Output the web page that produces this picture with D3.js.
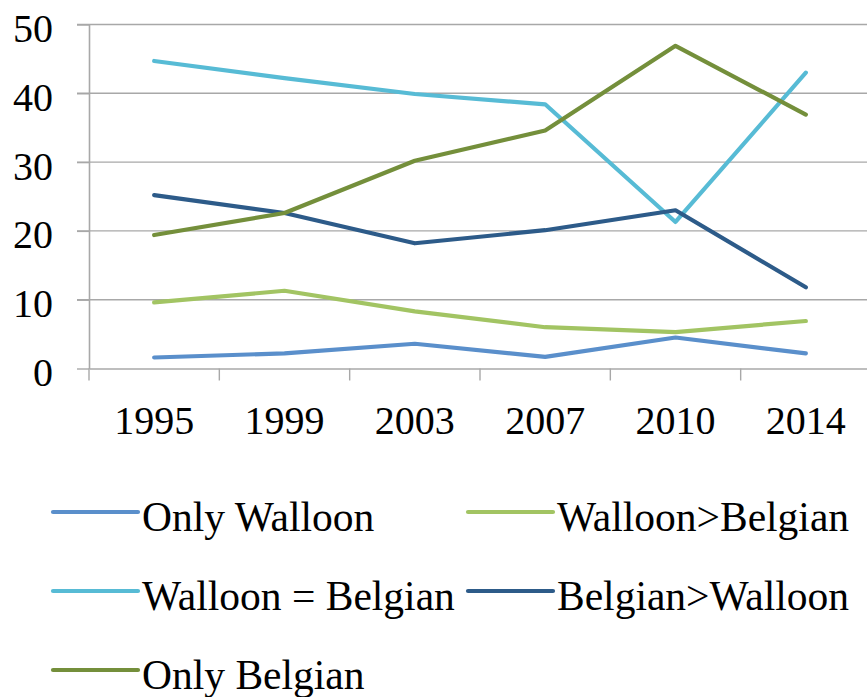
<!DOCTYPE html>
<html>
<head>
<meta charset="utf-8">
<script src="https://cdn.jsdelivr.net/npm/d3@7"></script>
<style>
  body{margin:0;background:#fff;}
</style>
</head>
<body>
<div id="chart"></div>
<script>
// data
const years=["1995","1999","2003","2007","2010","2014"];
const seriesNames=["Only Walloon","Walloon>Belgian","Walloon = Belgian","Belgian>Walloon","Only Belgian"];
const onlyWalloon=[1.6,2.2,3.6,1.7,4.5,2.2];
const walloonMore=[9.6,11.3,8.3,6.0,5.3,6.9];
const walloonEqual=[44.7,42.2,39.9,38.4,21.3,43.0];
const belgianMore=[25.2,22.6,18.2,20.1,23.0,11.8];
const onlyBelgian=[19.4,22.6,30.2,34.6,46.9,36.9];
const colors=["#5a8fcb","#a2c463","#57bbd5","#2d5b89","#748f3b"];
const yTicks=[0,10,20,30,40,50];

const allValues=[onlyWalloon,walloonMore,walloonEqual,belgianMore,onlyBelgian];

const fontStack="'Liberation Serif','Times New Roman',Times,'DejaVu Serif',serif";
const width=867,height=697;
const margin={left:89,top:24.5,right:-4,bottom:328.5};

const svg=d3.select("#chart").append("svg")
  .attr("width",width)
  .attr("height",height)
  .attr("font-family",fontStack);

const xScale=d3.scaleBand()
  .domain(years)
  .range([margin.left,width-margin.right]);

const yScale=d3.scaleLinear()
  .domain([0,50])
  .range([height-margin.bottom,margin.top]);

// gridlines
svg.append("g")
  .selectAll("line")
  .data(yTicks.filter(d=>d>0))
  .enter()
  .append("line")
  .attr("x1",77)
  .attr("x2",width)
  .attr("y1",d=>yScale(d))
  .attr("y2",d=>yScale(d))
  .attr("stroke","#a8a8a8")
  .attr("stroke-width",1.4);

// y axis
const yAxis=d3.axisLeft(yScale)
  .tickValues(yTicks)
  .tickSize(12)
  .tickSizeOuter(0)
  .tickPadding(24);

const yG=svg.append("g")
  .attr("transform","translate("+margin.left+",0)")
  .call(yAxis)
  .attr("font-family",fontStack);
yG.select(".domain").attr("stroke","#a8a8a8").attr("stroke-width",1.6);
yG.selectAll(".tick line").attr("stroke","#a8a8a8").attr("stroke-width",1.4);
yG.selectAll("text")
  .attr("font-size","40px")
  .attr("fill","#000")
  .attr("dy","17px");

// x axis, ticks between categories
const xAxis=d3.axisBottom(xScale)
  .tickSize(0)
  .tickSizeOuter(0)
  .tickPadding(0);

const xG=svg.append("g")
  .attr("transform","translate(0,"+yScale(0)+")")
  .call(xAxis)
  .attr("font-family",fontStack);
xG.select(".domain").attr("stroke","#a8a8a8").attr("stroke-width",1.6);
xG.selectAll("text")
  .attr("font-size","40px")
  .attr("fill","#000")
  .attr("y",65)
  .attr("dy",0);

xG.selectAll(".sep")
  .data(years)
  .enter()
  .append("line")
  .attr("class","sep")
  .attr("x1",d=>xScale(d))
  .attr("x2",d=>xScale(d))
  .attr("y1",0)
  .attr("y2",12)
  .attr("stroke","#a8a8a8")
  .attr("stroke-width",1.4);

// lines
const line=d3.line()
  .x((d,i)=>xScale(years[i])+xScale.bandwidth()/2)
  .y(d=>yScale(d));

svg.append("g")
  .selectAll("path")
  .data(allValues)
  .enter()
  .append("path")
  .attr("d",d=>line(d))
  .attr("fill","none")
  .attr("stroke",(d,i)=>colors[i])
  .attr("stroke-width",4.2)
  .attr("stroke-linejoin","round")
  .attr("stroke-linecap","round");

// legend
const legendPos=[[53,512],[468,512],[53,591],[468,591],[53,670]];
const legend=svg.append("g")
  .selectAll("g")
  .data(seriesNames)
  .enter()
  .append("g")
  .attr("transform",(d,i)=>"translate("+legendPos[i][0]+","+legendPos[i][1]+")");

legend.append("line")
  .attr("x1",0)
  .attr("x2",85)
  .attr("y1",0)
  .attr("y2",0)
  .attr("stroke",(d,i)=>colors[i])
  .attr("stroke-width",4.2)
  .attr("stroke-linecap","round");

legend.append("text")
  .attr("x",89)
  .attr("y",19)
  .attr("font-size","41.5px")
  .attr("fill","#000")
  .text(d=>d);
</script>
</body>
</html>
